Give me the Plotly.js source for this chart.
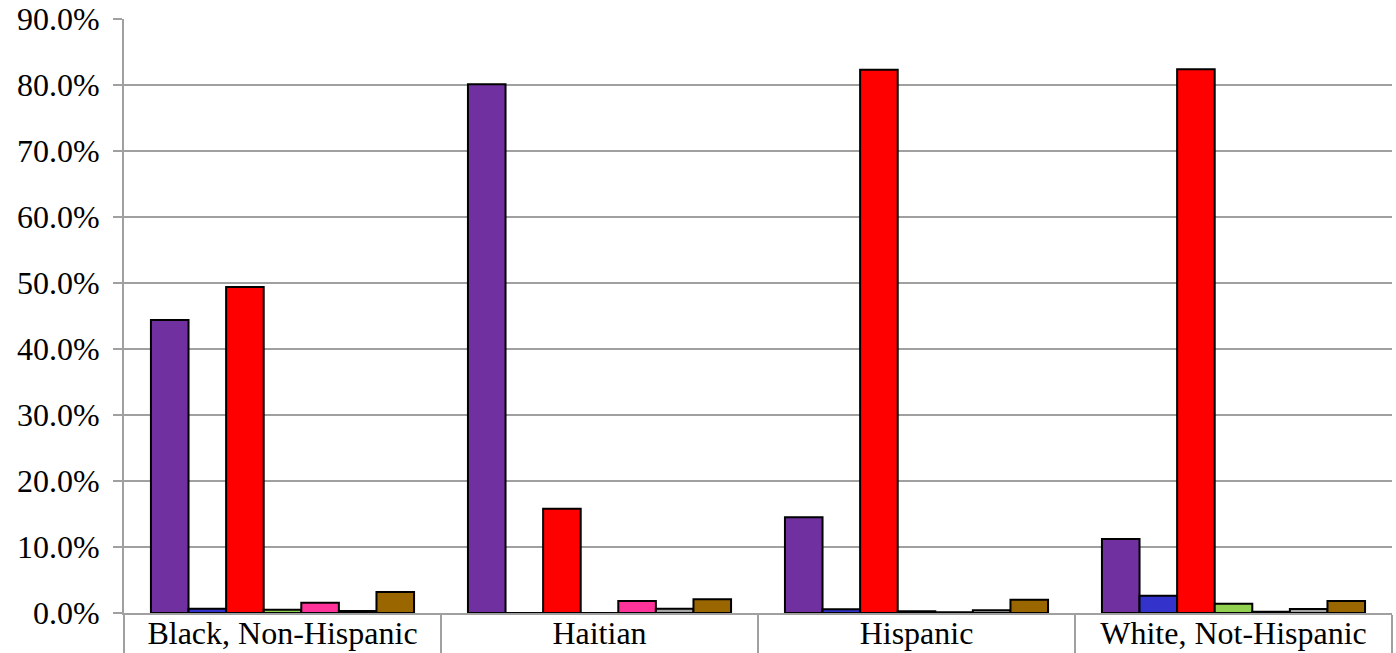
<!DOCTYPE html>
<html>
<head>
<meta charset="utf-8">
<script src="https://cdn.plot.ly/plotly-3.0.1.min.js"></script>
<style>html,body{margin:0;padding:0;background:#fff;}#chart{width:1396px;height:653px;}</style>
</head>
<body>
<div id="chart"></div>
<script>
const categories = ["Black, Non-Hispanic", "Haitian", "Hispanic", "White, Not-Hispanic"];
const seriesNames = ["Series 1", "Series 2", "Series 3", "Series 4", "Series 5", "Series 6", "Series 7"];
const seriesColors = ["#7030A0", "#3333CC", "#FF0000", "#92D050", "#FF3399", "#A6A6A6", "#996600"];
const s1 = [44.4, 80.1, 14.5, 11.2];
const s2 = [0.65, 0.0, 0.55, 2.6];
const s3 = [49.4, 15.8, 82.3, 82.4];
const s4 = [0.5, 0.0, 0.25, 1.4];
const s5 = [1.55, 1.8, 0.1, 0.2];
const s6 = [0.3, 0.65, 0.4, 0.6];
const s7 = [3.2, 2.1, 2.0, 1.8];
const seriesValues = [s1, s2, s3, s4, s5, s6, s7];
const yTicks = [0, 10, 20, 30, 40, 50, 60, 70, 80, 90];
const yTickLabels = ["0.0%", "10.0%", "20.0%", "30.0%", "40.0%", "50.0%", "60.0%", "70.0%", "80.0%", "90.0%"];

const traces = seriesValues.map((vals, i) => ({
  type: "bar",
  name: seriesNames[i],
  x: categories,
  y: vals,
  marker: {color: seriesColors[i], line: {color: "#000000", width: 2}},
  hoverinfo: "x+y"
}));

const layout = {
  width: 1396,
  height: 653,
  margin: {l: 124, r: 4, t: 19, b: 40, pad: 0},
  paper_bgcolor: "#ffffff",
  plot_bgcolor: "#ffffff",
  barmode: "group",
  bargap: 0.17,
  bargroupgap: 0,
  showlegend: false,
  font: {family: "Liberation Serif, Times New Roman, serif", color: "#000000", size: 32},
  xaxis: {
    type: "category",
    showgrid: false,
    showline: true,
    linecolor: "#A0A0A0",
    linewidth: 2,
    ticks: "outside",
    tickson: "boundaries",
    ticklen: 40,
    tickcolor: "#A0A0A0",
    tickwidth: 2,
    tickfont: {size: 32, family: "Liberation Serif, Times New Roman, serif"},
    ticklabelstandoff: -9
  },
  yaxis: {
    range: [0, 90],
    tickvals: yTicks,
    ticktext: yTickLabels,
    showgrid: true,
    gridcolor: "#A0A0A0",
    gridwidth: 2,
    showline: true,
    linecolor: "#A0A0A0",
    linewidth: 2,
    ticks: "outside",
    ticklen: 9,
    tickcolor: "#A0A0A0",
    tickwidth: 2,
    zeroline: false,
    tickfont: {size: 32, family: "Liberation Serif, Times New Roman, serif"},
    ticklabelstandoff: 7
  }
};

Plotly.newPlot("chart", traces, layout, {displayModeBar: false, staticPlot: true});
</script>
</body>
</html>
